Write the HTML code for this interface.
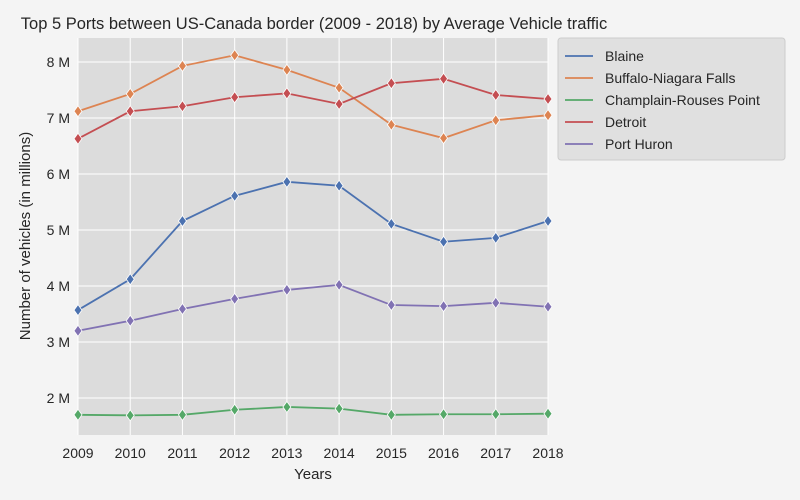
<!DOCTYPE html>
<html><head><meta charset="utf-8"><style>
body{margin:0;background:#f4f4f4;}
svg{display:block;font-family:"Liberation Sans",sans-serif;}
</style></head><body>
<svg id="chart" width="800" height="500">
<rect width="800" height="500" fill="#f4f4f4"/>
<text x="314" y="29" text-anchor="middle" font-size="16.5" fill="#262626">Top 5 Ports between US-Canada border (2009 - 2018) by Average Vehicle traffic</text>
<rect x="78" y="38" width="470" height="397" fill="#dcdcdc"/>
<g id="grid"></g><g id="axes"></g><g id="series"></g>
<text x="313" y="479" text-anchor="middle" font-size="15" fill="#262626">Years</text>
<text transform="translate(30,236) rotate(-90)" text-anchor="middle" font-size="15" fill="#262626">Number of vehicles (in millions)</text>
<g id="legend"></g>
</svg>
<script>
const years=[2009,2010,2011,2012,2013,2014,2015,2016,2017,2018];
const yTicks=[2,3,4,5,6,7,8];
const seriesNames=["Blaine","Buffalo-Niagara Falls","Champlain-Rouses Point","Detroit","Port Huron"];
const blaine=[3.57,4.12,5.16,5.61,5.86,5.79,5.11,4.79,4.86,5.16];
const buffalo=[7.12,7.43,7.93,8.12,7.86,7.54,6.88,6.64,6.96,7.05];
const champlain=[1.70,1.69,1.70,1.79,1.84,1.81,1.70,1.71,1.71,1.72];
const detroit=[6.63,7.12,7.21,7.37,7.44,7.25,7.62,7.70,7.41,7.34];
const portHuron=[3.20,3.38,3.59,3.77,3.93,4.02,3.66,3.64,3.70,3.63];
const colors=["#4c72b0","#dd8452","#55a868","#c44e52","#8172b3"];
const allSeries=[blaine,buffalo,champlain,detroit,portHuron];
const NS="http://www.w3.org/2000/svg";
const X0=78,X1=548;
function xs(y){return X0+(y-years[0])/(years[years.length-1]-years[0])*(X1-X0);}
function ys(v){return 398-(v-2)*56;}
function mk(t,a,p){const e=document.createElementNS(NS,t);for(const k in a)e.setAttribute(k,a[k]);p.appendChild(e);return e;}
const grid=document.getElementById('grid'),axes=document.getElementById('axes'),ser=document.getElementById('series'),leg=document.getElementById('legend');
years.forEach(y=>{const l=mk('line',{x1:xs(y),x2:xs(y),y1:38,y2:435,stroke:'#fff','stroke-width':1},grid);


const t=mk('text',{x:xs(y),y:458,'text-anchor':'middle','font-size':14,fill:'#262626'},axes);t.textContent=y;

});
yTicks.forEach(v=>{const l=mk('line',{x1:X0,x2:X1,y1:ys(v),y2:ys(v),stroke:'#fff','stroke-width':1},grid);


const t=mk('text',{x:70,y:ys(v)+5,'text-anchor':'end','font-size':14,fill:'#262626'},axes);t.textContent=v+' M';

});
allSeries.forEach((d,i)=>{
const g=mk('g',{},ser);


const pts=d.map((v,j)=>xs(years[j])+','+ys(v)).join(' ');
const pl=mk('polyline',{points:pts,fill:'none',stroke:colors[i],'stroke-width':1.8},g);


d.forEach((v,j)=>{const cx=xs(years[j]),cy=ys(v);
const m=mk('polygon',{points:`${cx},${cy-5.5} ${cx+4},${cy} ${cx},${cy+5.5} ${cx-4},${cy}`,fill:colors[i],stroke:'#fff','stroke-width':0.8},g);

});
});
mk('rect',{x:558,y:38,width:227,height:122,rx:3,fill:'#e0e0e0',stroke:'#cccccc'},leg);
seriesNames.forEach((n,i)=>{const y=56+i*22;
const e=mk('g',{},leg);


mk('line',{x1:565,x2:593,y1:y,y2:y,stroke:colors[i],'stroke-width':1.8},e);
const t=mk('text',{x:605,y:y+5,'font-size':14,fill:'#262626'},e);t.textContent=n;});
</script>
</body></html>
